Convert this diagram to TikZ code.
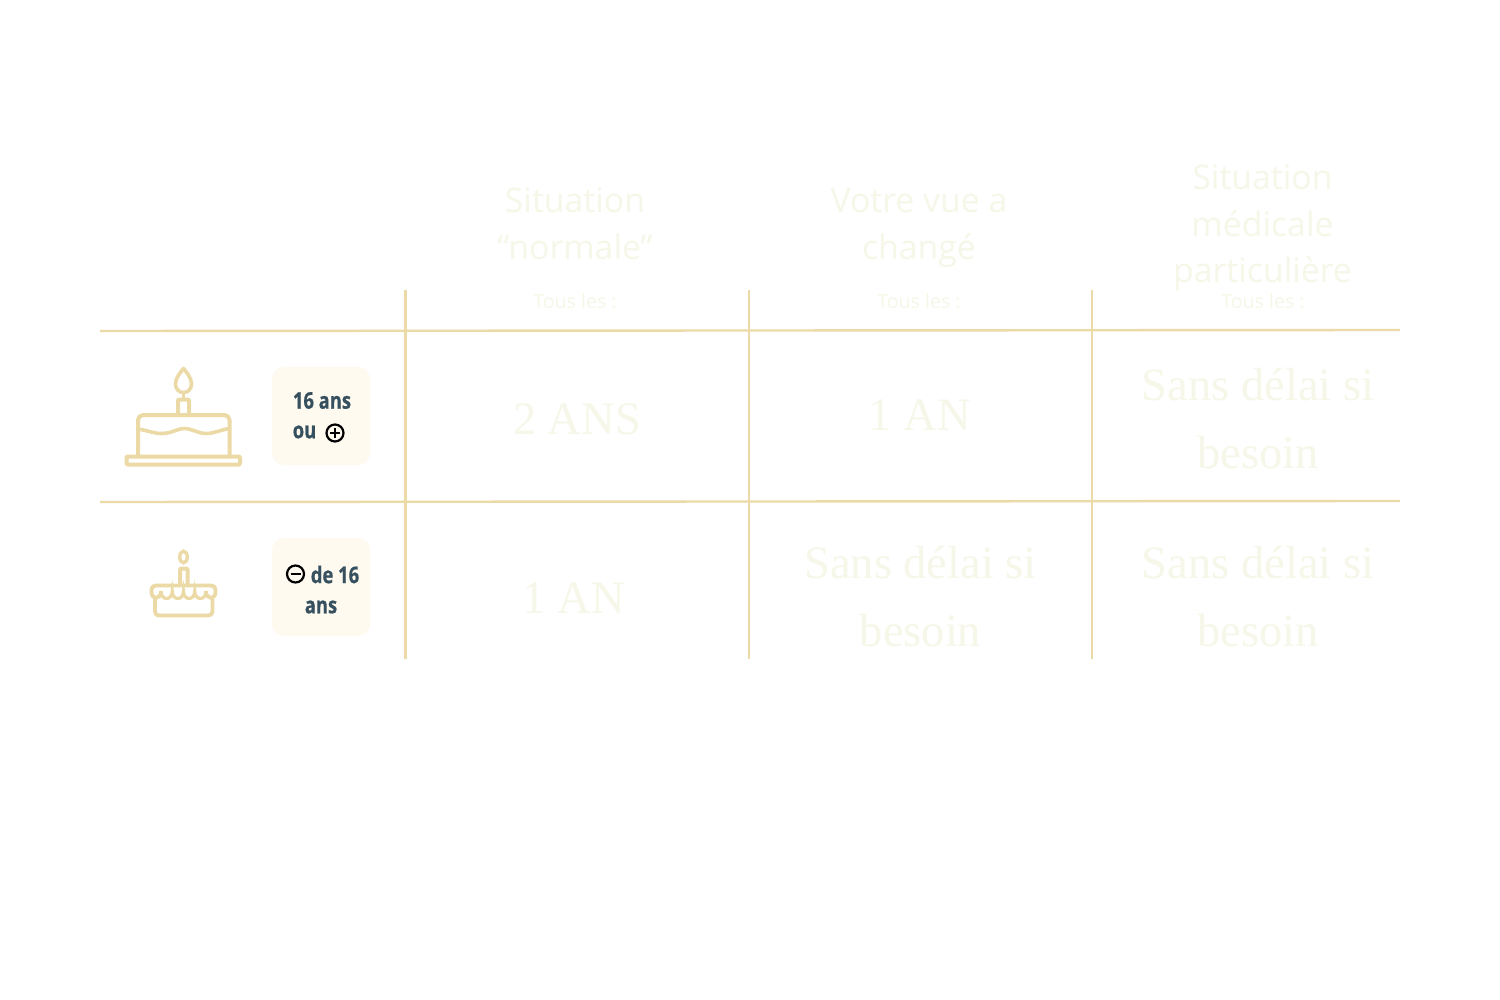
\documentclass[tikz,border=0pt]{standalone}
\usepackage{fontspec}
\usepackage{xcolor}
\usetikzlibrary{calc}
\setmainfont{Open Sans}
\newfontfamily\valuefont{Liberation Serif}
\newfontfamily\agefont[FakeStretch=0.8,FakeBold=0.6]{Open Sans}
\definecolor{gridgold}{HTML}{ECDAA6}
\definecolor{palegreen}{HTML}{F6F7E8}
\definecolor{boxcream}{HTML}{FFFAEF}
\definecolor{slateink}{HTML}{36505F}
\tikzstyle{gridline} = [draw=gridgold, line width=2.4pt]
\tikzstyle{cakeline} = [draw=gridgold, line width=4pt, line join=round, rounded corners=1pt]
\tikzstyle{headtext} = [text=palegreen, align=center, inner sep=0pt,
font=\fontsize{33.8}{46.5}\selectfont]
\tikzstyle{everytext} = [text=palegreen, inner sep=0pt, font=\fontsize{19.6}{24}\selectfont]
\tikzstyle{valuetext} = [text=palegreen, align=center, inner sep=0pt,
font=\valuefont\fontsize{46.5}{68}\selectfont]
\tikzstyle{agebox} = [fill=boxcream, rounded corners=12pt, minimum width=98pt, minimum height=98pt, inner sep=0pt]
\tikzstyle{agetext} = [text=slateink, inner sep=0pt, font=\agefont\bfseries\fontsize{23}{28}\selectfont]
\tikzstyle{signdisc} = [draw=black, circle, line width=2.2pt, minimum size=17pt, inner sep=0pt]
\tikzstyle{signbar} = [draw=black, line width=2.4pt]

\begin{document}
\begin{tikzpicture}[x=1pt, y=-1pt]
    \useasboundingbox (0,0) rectangle (1500,1000);
    \fill[white] (0,0) rectangle (1500,1000);

    % grid
    \coordinate (rowa west) at (100,331);
    \coordinate (rowa east) at (1400,330);
    \coordinate (rowb west) at (100,502);
    \coordinate (rowb east) at (1400,501);
    \draw[gridline] (rowa west) -- (rowa east);
    \draw[gridline] (rowb west) -- (rowb east);
    \foreach \colname/\colx in {cola/405.3, colb/749, colc/1092}{
        \coordinate (\colname top) at (\colx,290);
        \coordinate (\colname bottom) at (\colx,659);
        \draw[gridline] (\colname top) -- (\colname bottom);
    }

    % headers
    \node[headtext] (heada) at (575,224) {Situation\\“normale”};
    \node[headtext] (headb) at (919,228) {Votre vue a\\changé};
    \node[headtext] (headc) at (1262.5,228) {Situation\\médicale\\particulière};
    \node[everytext] (everya) at (575,301.5) {Tous les :};
    \node[everytext] (everyb) at (919,301.5) {Tous les :};
    \node[everytext] (everyc) at (1263,301.5) {Tous les :};

    % values
    \node[valuetext] (valaa) at (577,419) {2 ANS};
    \node[valuetext] (valab) at (920,415) {1 AN};
    \node[valuetext] (valac) at (1258,419) {Sans délai si\\besoin};
    \node[valuetext] (valba) at (574,598) {1 AN};
    \node[valuetext] (valbb) at (920.5,597) {Sans délai si\\besoin};
    \node[valuetext] (valbc) at (1258,597) {Sans délai si\\besoin};

    % big cake
    \draw[cakeline] (126.5,456.5) rectangle (240,464.5);
    \draw[cakeline, rounded corners=5pt] (138,456) -- (138,415) -- (229.5,415) -- (229.5,456);
    \draw[draw=gridgold, line width=3.6pt] (138,429) .. controls (150,431) and (155,434) .. (163,433.5)
        .. controls (172,433) and (178,428.5) .. (184,428.5)
        .. controls (192,428.5) and (198,433.5) .. (206,433.5)
        .. controls (214,433.5) and (220,430) .. (229.5,428.5);
    \draw[cakeline] (178,414) -- (178,399.5) -- (189,399.5) -- (189,414);
    \draw[draw=gridgold, line width=3.6pt, line join=round] (183.5,368.5)
        .. controls (180,373) and (175.5,378) .. (175.5,384)
        .. controls (175.5,389) and (179,392.5) .. (183.5,392.5)
        .. controls (188,392.5) and (191.5,389) .. (191.5,384)
        .. controls (191.5,378) and (187,373) .. (183.5,368.5) -- cycle;
    \draw[draw=gridgold, line width=2.5pt] (183.5,392.5) -- (183.5,399);

    % small cake
    \draw[draw=gridgold, line width=3.4pt] (183.5,557) ellipse (3.8pt and 5.8pt);
    \draw[cakeline] (180,585) -- (180,568.5) -- (187.5,568.5) -- (187.5,585);
    \draw[draw=gridgold, line width=3.8pt, line join=round] (155,599) -- (155,610)
        .. controls (155,614) and (156,615.5) .. (160,615.5) -- (207,615.5)
        .. controls (211,615.5) and (212.5,614) .. (212.5,610) -- (212.5,599);
    \draw[draw=gridgold, line width=3.8pt, line join=round] (161,591)
        .. controls (161,600) and (151.5,600) .. (151.5,592) -- (151.5,590)
        .. controls (151.5,587) and (153,585.5) .. (156,585.5) -- (211,585.5)
        .. controls (214,585.5) and (215.5,587) .. (215.5,590) -- (215.5,592)
        .. controls (215.5,600) and (206,600) .. (206,591);
    \draw[draw=gridgold, line width=3.2pt] (161,591)
        \foreach \scallop in {172.25,183.5,194.75,206}{
            .. controls +(0,10) and (\scallop,601) .. (\scallop,591)
        };

    % age badges
    \node[agebox] (boxa) at (321,416) {};
    \node[agebox] (boxb) at (321,587) {};
    \node[agetext] (agea) at (322,400.5) {16 ans};
    \node[agetext] (ageb) at (304.5,432) {ou};
    \node[signdisc] (plus) at (335,433) {};
    \draw[signbar] ($(plus.center)+(-5,0)$) -- ($(plus.center)+(5,0)$);
    \draw[signbar] ($(plus.center)+(0,-5)$) -- ($(plus.center)+(0,5)$);
    \node[agetext] (agec) at (335,574.5) {de 16};
    \node[signdisc] (minus) at (295.5,574) {};
    \draw[signbar] ($(minus.center)+(-5,0)$) -- ($(minus.center)+(5,0)$);
    \node[agetext] (aged) at (321,607) {ans};
\end{tikzpicture}
\end{document}
